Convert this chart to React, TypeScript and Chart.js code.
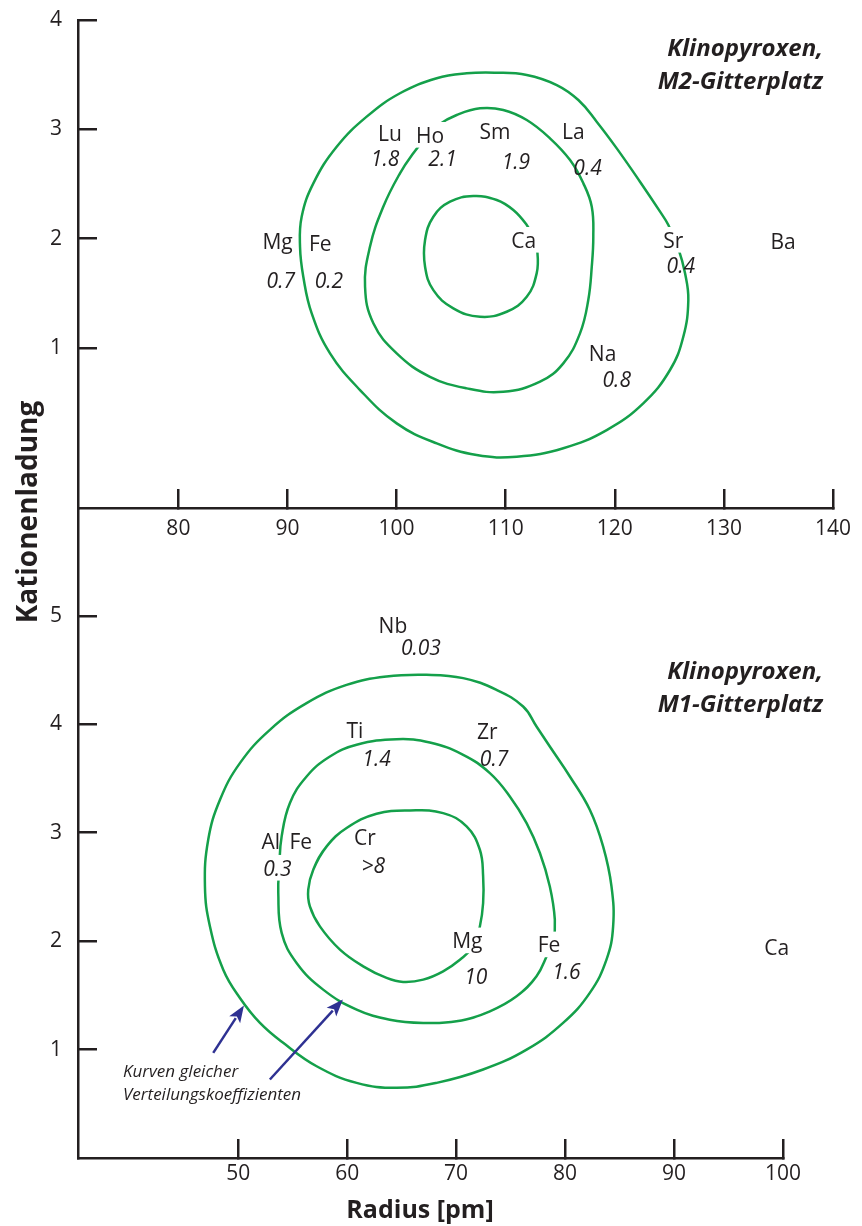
import React, { useEffect, useRef } from "react";
import { Chart, registerables } from "chart.js";

Chart.register(...registerables);

// ---------------- data ----------------
const m2XTicks = [80, 90, 100, 110, 120, 130, 140];
const m2YTicks = [1, 2, 3, 4];
const m1XTicks = [50, 60, 70, 80, 90, 100];
const m1YTicks = [1, 2, 3, 4, 5];

// contour lines (radius pm, charge) – M2 site
const m2Outer: [number, number][] = [
  [109.02, 3.518], [111.93, 3.497], [114.68, 3.405], [116.66, 3.268], [118.34, 3.07],
  [120.18, 2.826], [122.31, 2.521], [124.15, 2.247], [124.91, 2.125], [125.82, 1.912],
  [126.44, 1.683], [126.74, 1.439], [126.28, 1.103], [125.06, 0.799], [122.61, 0.494],
  [119.26, 0.25], [115.28, 0.083], [111.01, 0.006], [107.34, 0.021], [103.68, 0.128],
  [100.01, 0.311], [96.65, 0.616], [93.9, 0.951], [92.22, 1.317], [91.45, 1.652],
  [91.15, 1.926], [91.3, 2.201], [92.37, 2.506], [94.51, 2.841], [97.26, 3.116],
  [100.31, 3.33], [103.68, 3.467], [106.43, 3.512],
];
const m2Middle: [number, number][] = [
  [103.83, 3.04], [105.51, 3.131], [107.65, 3.192], [109.78, 3.177], [111.93, 3.085],
  [114.06, 2.918], [115.9, 2.719], [117.12, 2.506], [117.89, 2.292], [118.03, 2.018],
  [117.89, 1.744], [117.57, 1.439], [116.81, 1.134], [115.28, 0.86], [113.15, 0.692],
  [109.78, 0.6], [106.43, 0.631], [103.06, 0.737], [100.01, 0.951], [97.87, 1.226],
  [97.11, 1.561], [97.56, 1.926], [98.78, 2.292], [100.31, 2.598], [101.53, 2.781],
  [102.76, 2.933],
];
const m2Inner: [number, number][] = [
  [111.93, 2.125], [110.7, 2.262], [109.18, 2.354], [107.03, 2.39], [104.9, 2.338],
  [103.37, 2.201], [102.61, 1.988], [102.61, 1.744], [103.37, 1.53], [105.2, 1.363],
  [107.65, 1.286], [110.09, 1.332], [111.93, 1.469], [112.84, 1.683], [112.9, 1.881],
  [112.53, 2.018],
];

// contour lines – M1 site
const m1Outer: [number, number][] = [
  [67.29, 4.456], [70.65, 4.426], [73.71, 4.318], [76.15, 4.164], [77.38, 3.98],
  [78.6, 3.795], [80.44, 3.519], [82.27, 3.212], [83.49, 2.874], [84.26, 2.505],
  [84.41, 2.136], [83.8, 1.829], [82.27, 1.523], [79.82, 1.246], [76.47, 1.0],
  [72.48, 0.816], [68.21, 0.693], [64.54, 0.647], [60.87, 0.693], [57.2, 0.846],
  [54.13, 1.062], [52.0, 1.246], [50.16, 1.476], [48.63, 1.737], [47.41, 2.136],
  [46.95, 2.505], [47.25, 2.935], [48.33, 3.304], [50.16, 3.642], [52.91, 3.949],
  [56.28, 4.195], [59.95, 4.364], [63.62, 4.441],
];
const m1Middle: [number, number][] = [
  [64.54, 3.863], [67.59, 3.832], [70.65, 3.719], [73.1, 3.55], [74.93, 3.335],
  [76.47, 3.089], [77.69, 2.813], [78.6, 2.505], [79.06, 2.198], [78.91, 1.983],
  [78.45, 1.891], [77.38, 1.676], [75.55, 1.491], [73.1, 1.353], [70.04, 1.261],
  [66.98, 1.246], [63.92, 1.276], [60.87, 1.369], [57.8, 1.553], [55.36, 1.799],
  [53.99, 2.076], [53.68, 2.444], [53.77, 2.689], [53.99, 2.966], [54.75, 3.274],
  [56.28, 3.519], [58.42, 3.703], [60.87, 3.811],
];
const m1Inner: [number, number][] = [
  [65.76, 3.206], [68.81, 3.181], [70.96, 3.058], [72.18, 2.843], [72.48, 2.597],
  [72.48, 2.352], [72.18, 2.136], [71.57, 1.952], [70.35, 1.829], [68.81, 1.722],
  [66.98, 1.645], [65.14, 1.624], [63.62, 1.661], [61.47, 1.768], [59.34, 1.922],
  [57.5, 2.136], [56.58, 2.321], [56.43, 2.475], [56.89, 2.659], [58.12, 2.874],
  [59.95, 3.043], [62.7, 3.175],
];

// element labels: [text, radius, charge, hides line beneath]
type Lab = [string, number, number, boolean];
const m2Elements: Lab[] = [
  ["Lu", 99.4, 2.962, false], ["Ho", 103.06, 2.948, true], ["Sm", 109.02, 2.978, false],
  ["La", 116.2, 2.978, false], ["Mg", 89.09, 1.975, false], ["Fe", 93.01, 1.96, false],
  ["Ca", 111.66, 1.988, true], ["Sr", 125.36, 1.988, true], ["Na", 118.88, 0.951, false],
  ["Ba", 135.42, 1.979, false],
];
const m2Coefficients: Lab[] = [
  ["1.8", 98.94, 2.735, false], ["2.1", 104.21, 2.735, false], ["1.9", 110.93, 2.704, false],
  ["0.4", 117.5, 2.651, false], ["0.7", 89.39, 1.615, false], ["0.2", 93.79, 1.615, false],
  ["0.4", 126.05, 1.752, false], ["0.8", 120.18, 0.715, false],
];
const m1Elements: Lab[] = [
  ["Nb", 64.2, 4.908, false], ["Ti", 60.71, 3.942, false], ["Zr", 72.87, 3.934, false],
  ["Al", 52.99, 2.92, false], ["Fe", 55.74, 2.92, false], ["Cr", 61.63, 2.959, false],
  ["Mg", 71.03, 2.005, true], ["Fe", 78.53, 1.968, true], ["Ca", 99.43, 1.94, false],
];
const m1Coefficients: Lab[] = [
  ["0.03", 66.77, 4.705, false], ["1.4", 62.7, 3.688, false], ["0.7", 73.48, 3.688, false],
  ["0.3", 53.6, 2.675, true], [">8", 62.39, 2.698, false], ["10", 71.8, 1.676, false],
  ["1.6", 80.13, 1.722, false],
];

// annotation (radius, charge)
const noteLines: [string, number, number][] = [
  ["Kurven gleicher", 39.43, 0.751],
  ["Verteilungskoeffizienten", 39.43, 0.539],
];
const noteArrows: [number, number, number, number][] = [
  [47.71, 0.97, 50.53, 1.406],
  [52.91, 0.724, 59.61, 1.461],
];

const m2Title = ["Klinopyroxen,", "M2-Gitterplatz"];
const m1Title = ["Klinopyroxen,", "M1-Gitterplatz"];
const yTitle = "Kationenladung";
const xTitle = "Radius [pm]";

// ---------------- styles ----------------
const FONT = '"Open Sans", "Noto Sans", sans-serif';
const TEXT = "#231f20";
const AXIS = "#231f20";
const GREEN = "#14a04a";
const BLUE = "#2e3192";

function loopDataset(pts: [number, number][]) {
  const n = pts.length;
  const data = [...pts, pts[0], pts[1], pts[2]].map(([x, y]) => ({ x, y }));
  return {
    data,
    showLine: true,
    fill: false,
    borderColor: GREEN,
    borderWidth: 2.5,
    pointRadius: 0,
    pointHoverRadius: 0,
    pointHitRadius: 0,
    tension: 0.42,
    segment: {
      borderColor: (c: any) =>
        c.p0DataIndex === 0 || c.p0DataIndex === n + 1 ? "rgba(0,0,0,0)" : GREEN,
    },
  };
}

function makeScale(axis: "x" | "y", min: number, max: number, ticks: number[], pad: number, size: number) {
  return {
    type: "linear",
    position: axis === "x" ? "bottom" : "left",
    min,
    max,
    afterBuildTicks: (s: any) => {
      s.ticks = ticks.map((v) => ({ value: v }));
    },
    afterFit: (s: any) => {
      if (axis === "x") s.height = size;
      else s.width = size;
      s.paddingTop = 0;
      s.paddingBottom = 0;
      s.paddingLeft = 0;
      s.paddingRight = 0;
    },
    border: { display: true, color: AXIS, width: 2.5 },
    grid: {
      display: true,
      drawOnChartArea: false,
      drawTicks: true,
      tickLength: -19,
      tickColor: AXIS,
      tickWidth: 2.5,
      color: AXIS,
      lineWidth: 2.5,
    },
    ticks: {
      autoSkip: false,
      maxRotation: 0,
      minRotation: 0,
      padding: pad,
      color: TEXT,
      font: { family: FONT, size: 21 },
      callback: (v: any) => String(v),
    },
  };
}

function drawLabels(ctx: CanvasRenderingContext2D, xs: any, ys: any, labs: Lab[], italic: boolean) {
  const size = 21;
  ctx.save();
  ctx.font = `${italic ? "italic " : ""}${size}px ${FONT}`;
  ctx.textAlign = "center";
  ctx.textBaseline = "alphabetic";
  for (const [text, x, y, knock] of labs) {
    const px = xs.getPixelForValue(x);
    const py = ys.getPixelForValue(y);
    const base = py + size * 0.36;
    const w = ctx.measureText(text).width;
    if (knock) {
      ctx.fillStyle = "#ffffff";
      ctx.fillRect(px - w / 2 - 3, base - size * 0.98, w + 6, size * 1.22);
    }
    ctx.fillStyle = TEXT;
    ctx.fillText(text, px, base);
  }
  ctx.restore();
}

function drawTitle(ctx: CanvasRenderingContext2D, lines: string[], right: number, base: number) {
  ctx.save();
  ctx.font = `italic bold 24px ${FONT}`;
  ctx.fillStyle = TEXT;
  ctx.textAlign = "right";
  ctx.textBaseline = "alphabetic";
  lines.forEach((l, i) => ctx.fillText(l, right, base + i * 33));
  ctx.restore();
}

function drawArrow(ctx: CanvasRenderingContext2D, x0: number, y0: number, x1: number, y1: number) {
  const ang = Math.atan2(y1 - y0, x1 - x0);
  const hl = 17;
  const hw = 6.5;
  const bx = x1 - hl * Math.cos(ang);
  const by = y1 - hl * Math.sin(ang);
  ctx.save();
  ctx.strokeStyle = BLUE;
  ctx.fillStyle = BLUE;
  ctx.lineWidth = 2.5;
  ctx.beginPath();
  ctx.moveTo(x0, y0);
  ctx.lineTo(bx + 2 * Math.cos(ang), by + 2 * Math.sin(ang));
  ctx.stroke();
  ctx.beginPath();
  ctx.moveTo(x1, y1);
  ctx.lineTo(bx + hw * Math.sin(ang), by - hw * Math.cos(ang));
  ctx.lineTo(bx + 4 * Math.cos(ang), by + 4 * Math.sin(ang));
  ctx.lineTo(bx - hw * Math.sin(ang), by + hw * Math.cos(ang));
  ctx.closePath();
  ctx.fill();
  ctx.restore();
}

const topPlugin = {
  id: "m2Text",
  afterDatasetsDraw(chart: any) {
    const ctx = chart.ctx as CanvasRenderingContext2D;
    const xs = chart.scales.x;
    const ys = chart.scales.y;
    drawLabels(ctx, xs, ys, m2Elements, false);
    drawLabels(ctx, xs, ys, m2Coefficients, true);
    drawTitle(ctx, m2Title, 823, 56);
    ctx.save();
    ctx.translate(37, 512);
    ctx.rotate(-Math.PI / 2);
    ctx.font = `bold 28px ${FONT}`;
    ctx.fillStyle = TEXT;
    ctx.textAlign = "center";
    ctx.textBaseline = "alphabetic";
    ctx.fillText(yTitle, 0, 0);
    ctx.restore();
  },
};

const bottomPlugin = {
  id: "m1Text",
  afterDatasetsDraw(chart: any) {
    const ctx = chart.ctx as CanvasRenderingContext2D;
    const xs = chart.scales.x;
    const ys = chart.scales.y;
    drawLabels(ctx, xs, ys, m1Elements, false);
    drawLabels(ctx, xs, ys, m1Coefficients, true);
    drawTitle(ctx, m1Title, 823, 199);
    for (const [x0, y0, x1, y1] of noteArrows) {
      drawArrow(ctx, xs.getPixelForValue(x0), ys.getPixelForValue(y0), xs.getPixelForValue(x1), ys.getPixelForValue(y1));
    }
    ctx.save();
    ctx.font = `italic 17px ${FONT}`;
    ctx.fillStyle = TEXT;
    ctx.textAlign = "left";
    ctx.textBaseline = "alphabetic";
    for (const [t, x, y] of noteLines) ctx.fillText(t, xs.getPixelForValue(x), ys.getPixelForValue(y));
    ctx.font = `bold 25px ${FONT}`;
    ctx.textAlign = "center";
    ctx.fillText(xTitle, 420, 738);
    ctx.restore();
  },
};

export default function App() {
  const topRef = useRef<HTMLCanvasElement | null>(null);
  const botRef = useRef<HTMLCanvasElement | null>(null);

  useEffect(() => {
    const top = new Chart(topRef.current as HTMLCanvasElement, {
      type: "scatter",
      data: { datasets: [loopDataset(m2Outer), loopDataset(m2Middle), loopDataset(m2Inner)] as any },
      options: {
        responsive: false,
        animation: false,
        events: [],
        layout: { padding: { left: 18, right: 29, top: 20, bottom: 92 } },
        plugins: { legend: { display: false }, tooltip: { enabled: false } },
        scales: {
          x: makeScale("x", 70.8, 140, m2XTicks, 27, 40),
          y: makeScale("y", -0.463, 4, m2YTicks, 35, 60),
        } as any,
      },
      plugins: [topPlugin],
    });
    const bottom = new Chart(botRef.current as HTMLCanvasElement, {
      type: "scatter",
      data: { datasets: [loopDataset(m1Outer), loopDataset(m1Middle), loopDataset(m1Inner)] as any },
      options: {
        responsive: false,
        animation: false,
        events: [],
        layout: { padding: { left: 18, right: 79, top: 28, bottom: 28 } },
        plugins: { legend: { display: false }, tooltip: { enabled: false } },
        scales: {
          x: makeScale("x", 35.3, 100, m1XTicks, 22, 40),
          y: makeScale("y", 0, 5.995, m1YTicks, 35, 60),
        } as any,
      },
      plugins: [bottomPlugin],
    });
    return () => {
      top.destroy();
      bottom.destroy();
    };
  }, []);

  return (
    <div style={{ position: "absolute", left: 0, top: 0, width: 862, height: 1226, background: "#fff" }}>
      <canvas ref={topRef} width={862} height={640} style={{ position: "absolute", left: 0, top: 0, width: 862, height: 640 }} />
      <canvas ref={botRef} width={862} height={746} style={{ position: "absolute", left: 0, top: 480, width: 862, height: 746 }} />
    </div>
  );
}
